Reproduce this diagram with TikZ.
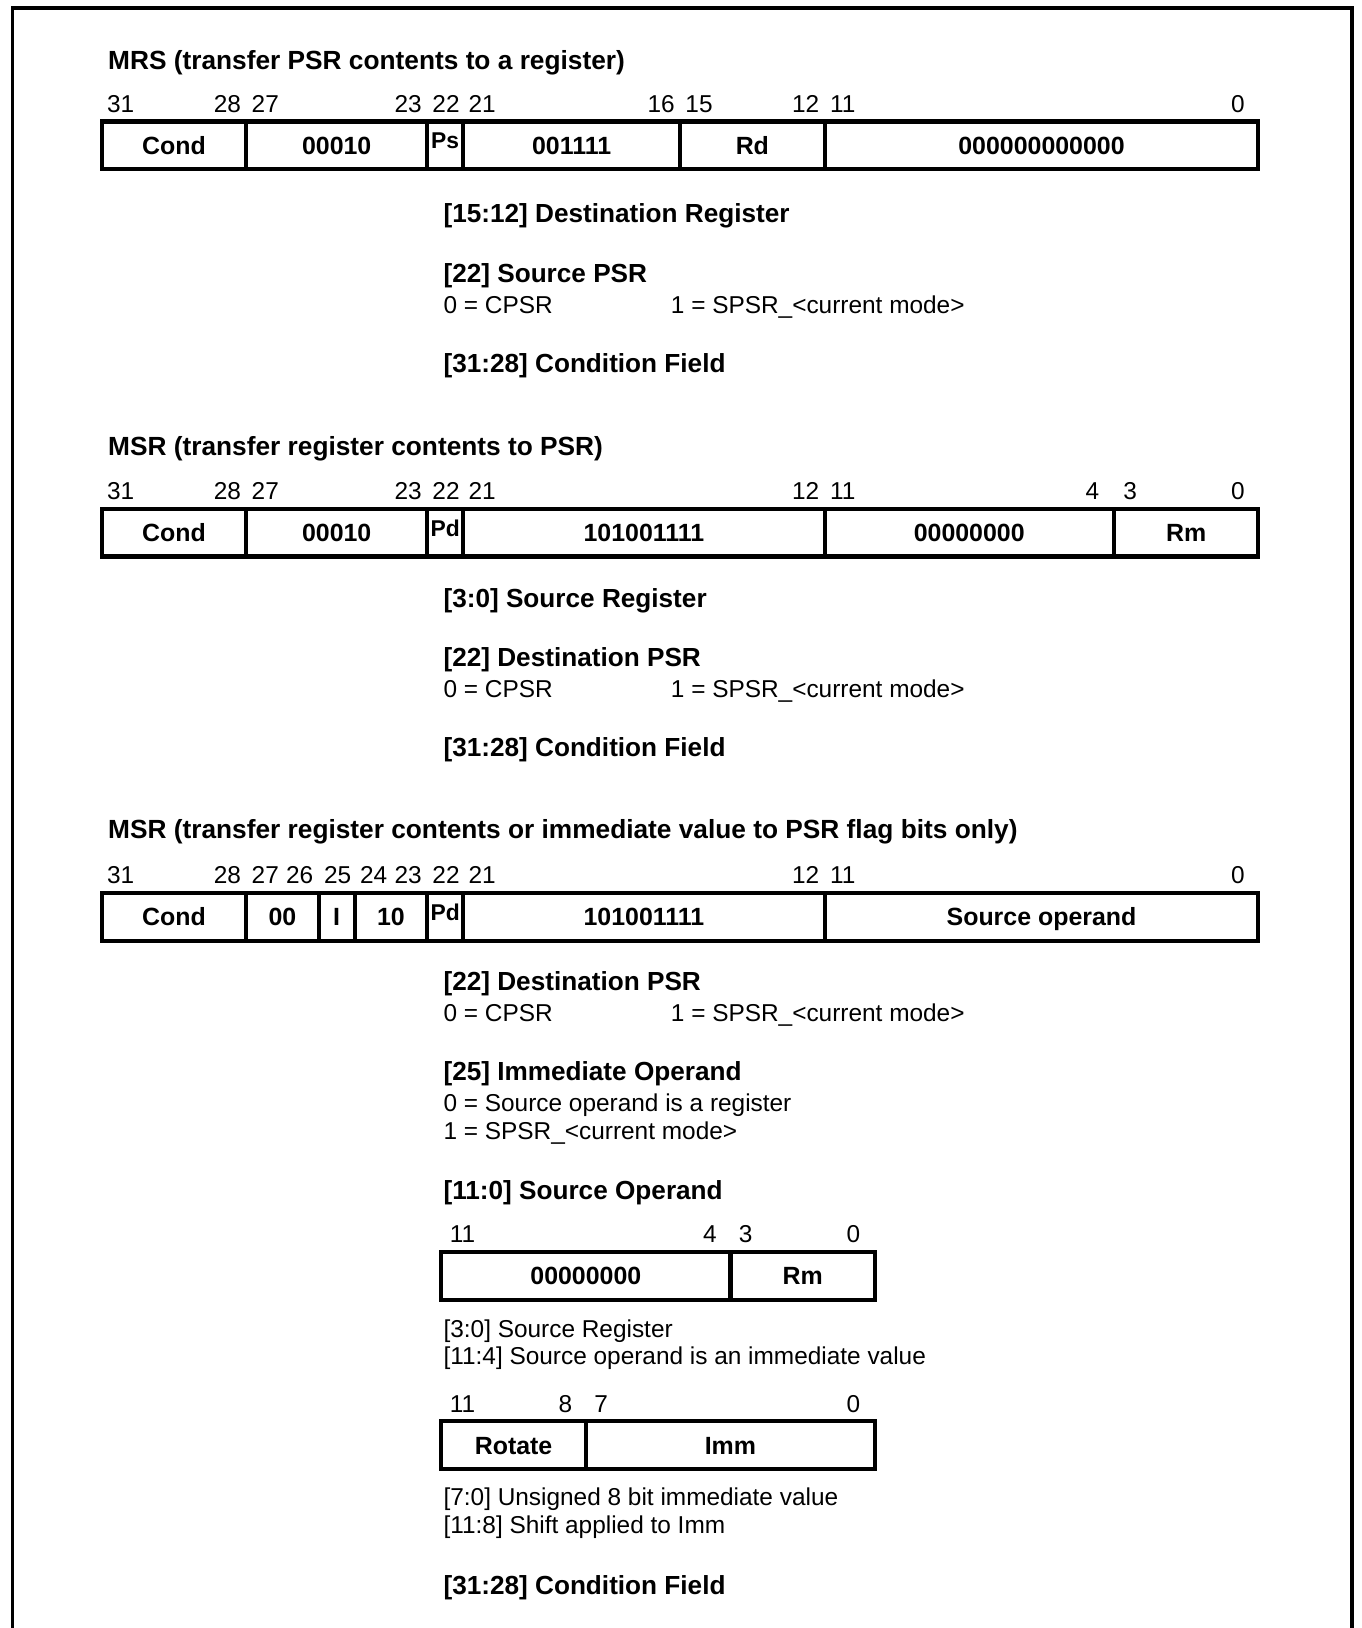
\documentclass[tikz,border=0pt]{standalone}
\usepackage{fontspec}
\setmainfont{Liberation Sans}
\usepackage{tikz}
\usetikzlibrary{positioning}
\tikzset{
  fld/.style   = {rectangle, draw=black, line width=4pt, inner sep=0pt,
                  outer sep=0pt, minimum height=46pt, text height=17pt,
                  text depth=0pt, font=\fontsize{24}{28}\selectfont\bfseries},
  nbits/.style = {minimum width=#1*34.8125pt},
  pflag/.style = {font=\fontsize{22}{24}\selectfont\bfseries},
  bitno/.style = {inner sep=0pt, font=\fontsize{23.5}{26}\selectfont},
  bhi/.style   = {bitno, anchor=base west, xshift=5pt, yshift=9pt},
  blo/.style   = {bitno, anchor=base east, xshift=-5pt, yshift=9pt},
  title/.style = {inner sep=0pt, anchor=base west,
                  font=\fontsize{25.3}{28}\selectfont\bfseries},
  head/.style  = {inner sep=0pt, anchor=base west,
                  font=\fontsize{25.2}{28}\selectfont\bfseries},
  note/.style  = {inner sep=0pt, anchor=base west,
                  font=\fontsize{23.5}{26.5}\selectfont},
  nextline/.style = {yshift=-26.5pt},
  frame/.style = {line width=3.5pt},
}
\begin{document}
\begin{tikzpicture}[x=1pt, y=-1pt]
  \useasboundingbox (0,0) rectangle (1311,1568);
  \draw[frame] (12,1568) -- (12,8) -- (1302,8) -- (1302,1568);

  % MRS
  \node[title] (mrs-title) at (104,67) {MRS (transfer PSR contents to a register)};
  \node[fld, nbits=4, anchor=north west] (mrs-cond) at (98,117) {Cond};
  \node[fld, nbits=5, right=0pt of mrs-cond] (mrs-op) {00010};
  \node[fld, pflag, nbits=1, right=0pt of mrs-op] (mrs-ps) {\raisebox{5pt}{Ps}};
  \node[fld, nbits=6, right=0pt of mrs-ps] (mrs-mask) {001111};
  \node[fld, nbits=4, right=0pt of mrs-mask] (mrs-rd) {Rd};
  \node[fld, nbits=12, right=0pt of mrs-rd] (mrs-zero) {000000000000};

  \node[bhi] (mrs-b31) at (mrs-cond.north west) {31};
  \node[blo] (mrs-b28) at (mrs-cond.north east) {28};
  \node[bhi] (mrs-b27) at (mrs-op.north west) {27};
  \node[blo] (mrs-b23) at (mrs-op.north east) {23};
  \node[bhi] (mrs-b22) at (mrs-ps.north west) {22};
  \node[bhi] (mrs-b21) at (mrs-mask.north west) {21};
  \node[blo] (mrs-b16) at (mrs-mask.north east) {16};
  \node[bhi] (mrs-b15) at (mrs-rd.north west) {15};
  \node[blo] (mrs-b12) at (mrs-rd.north east) {12};
  \node[bhi] (mrs-b11) at (mrs-zero.north west) {11};
  \node[blo, xshift=-8pt] (mrs-b0) at (mrs-zero.north east) {0};

  \node[head] (mrs-rdtxt) at (427,214) {[15:12] Destination Register};
  \node[head] (mrs-pstxt) at (427,272) {[22] Source PSR};
  \node[note] (mrs-cpsr) at (427,302) {0 = CPSR};
  \node[note] (mrs-spsr) at (646,302) {1 = SPSR\_<current mode>};
  \node[head] (mrs-condtxt) at (427,359) {[31:28] Condition Field};

  % MSR, register to PSR
  \node[title] (msr-title) at (104,439) {MSR (transfer register contents to PSR)};
  \node[fld, nbits=4, anchor=north west] (msr-cond) at (98,490) {Cond};
  \node[fld, nbits=5, right=0pt of msr-cond] (msr-op) {00010};
  \node[fld, pflag, nbits=1, right=0pt of msr-op] (msr-pd) {\raisebox{5pt}{Pd}};
  \node[fld, nbits=10, right=0pt of msr-pd] (msr-mask) {101001111};
  \node[fld, nbits=8, right=0pt of msr-mask] (msr-zero) {00000000};
  \node[fld, nbits=4, right=0pt of msr-zero] (msr-rm) {Rm};

  \node[bhi] (msr-b31) at (msr-cond.north west) {31};
  \node[blo] (msr-b28) at (msr-cond.north east) {28};
  \node[bhi] (msr-b27) at (msr-op.north west) {27};
  \node[blo] (msr-b23) at (msr-op.north east) {23};
  \node[bhi] (msr-b22) at (msr-pd.north west) {22};
  \node[bhi] (msr-b21) at (msr-mask.north west) {21};
  \node[blo] (msr-b12) at (msr-mask.north east) {12};
  \node[bhi] (msr-b11) at (msr-zero.north west) {11};
  \node[blo, xshift=-9pt] (msr-b4) at (msr-zero.north east) {4};
  \node[bhi, xshift=4pt] (msr-b3) at (msr-rm.north west) {3};
  \node[blo, xshift=-8pt] (msr-b0) at (msr-rm.north east) {0};

  \node[head] (msr-rmtxt) at (427,585) {[3:0] Source Register};
  \node[head] (msr-pdtxt) at (427,642) {[22] Destination PSR};
  \node[note] (msr-cpsr) at (427,672) {0 = CPSR};
  \node[note] (msr-spsr) at (646,672) {1 = SPSR\_<current mode>};
  \node[head] (msr-condtxt) at (427,729) {[31:28] Condition Field};

  % MSR, flag bits only
  \node[title] (flg-title) at (104,808) {MSR (transfer register contents or immediate value to PSR flag bits only)};
  \node[fld, nbits=4, anchor=north west] (flg-cond) at (98,860) {Cond};
  \node[fld, nbits=2, right=0pt of flg-cond] (flg-op1) {00};
  \node[fld, nbits=1, right=0pt of flg-op1] (flg-i) {I};
  \node[fld, nbits=2, right=0pt of flg-i] (flg-op2) {10};
  \node[fld, pflag, nbits=1, right=0pt of flg-op2] (flg-pd) {\raisebox{5pt}{Pd}};
  \node[fld, nbits=10, right=0pt of flg-pd] (flg-mask) {101001111};
  \node[fld, nbits=12, right=0pt of flg-mask] (flg-src) {Source operand};

  \node[bhi] (flg-b31) at (flg-cond.north west) {31};
  \node[blo] (flg-b28) at (flg-cond.north east) {28};
  \node[bhi] (flg-b27) at (flg-op1.north west) {27};
  \node[blo] (flg-b26) at (flg-op1.north east) {26};
  \node[bhi] (flg-b25) at (flg-i.north west) {25};
  \node[bhi] (flg-b24) at (flg-op2.north west) {24};
  \node[blo] (flg-b23) at (flg-op2.north east) {23};
  \node[bhi] (flg-b22) at (flg-pd.north west) {22};
  \node[bhi] (flg-b21) at (flg-mask.north west) {21};
  \node[blo] (flg-b12) at (flg-mask.north east) {12};
  \node[bhi] (flg-b11) at (flg-src.north west) {11};
  \node[blo, xshift=-8pt] (flg-b0) at (flg-src.north east) {0};

  \node[head] (flg-pdtxt) at (427,954) {[22] Destination PSR};
  \node[note] (flg-cpsr) at (427,984) {0 = CPSR};
  \node[note] (flg-spsr) at (646,984) {1 = SPSR\_<current mode>};
  \node[head] (flg-itxt) at (427,1041) {[25] Immediate Operand};
  \node[note] (flg-i0) at (427,1071) {0 = Source operand is a register};
  \node[note, nextline] (flg-i1) at (flg-i0.base west) {1 = SPSR\_<current mode>};
  \node[head] (flg-srctxt) at (427,1155) {[11:0] Source Operand};

  % source operand, register form
  \node[fld, nbits=8, anchor=north west] (reg-zero) at (425,1206) {00000000};
  \node[fld, nbits=4, right=0pt of reg-zero] (reg-rm) {Rm};
  \node[bhi, xshift=3pt] (reg-b11) at (reg-zero.north west) {11};
  \node[blo, xshift=-8pt] (reg-b4) at (reg-zero.north east) {4};
  \node[bhi, xshift=3pt] (reg-b3) at (reg-rm.north west) {3};
  \node[blo, xshift=-9pt] (reg-b0) at (reg-rm.north east) {0};
  \node[note] (reg-txt0) at (427,1288) {[3:0] Source Register};
  \node[note, nextline] (reg-txt1) at (reg-txt0.base west) {[11:4] Source operand is an immediate value};

  % source operand, immediate form
  \node[fld, nbits=4, anchor=north west] (imm-rot) at (425,1369) {Rotate};
  \node[fld, nbits=8, right=0pt of imm-rot] (imm-val) {Imm};
  \node[bhi, xshift=3pt] (imm-b11) at (imm-rot.north west) {11};
  \node[blo, xshift=-8pt] (imm-b8) at (imm-rot.north east) {8};
  \node[bhi, xshift=3pt] (imm-b7) at (imm-val.north west) {7};
  \node[blo, xshift=-9pt] (imm-b0) at (imm-val.north east) {0};
  \node[note] (imm-txt0) at (427,1450) {[7:0] Unsigned 8 bit immediate value};
  \node[note, nextline] (imm-txt1) at (imm-txt0.base west) {[11:8] Shift applied to Imm};

  \node[head] (flg-condtxt) at (427,1536) {[31:28] Condition Field};
\end{tikzpicture}
\end{document}
